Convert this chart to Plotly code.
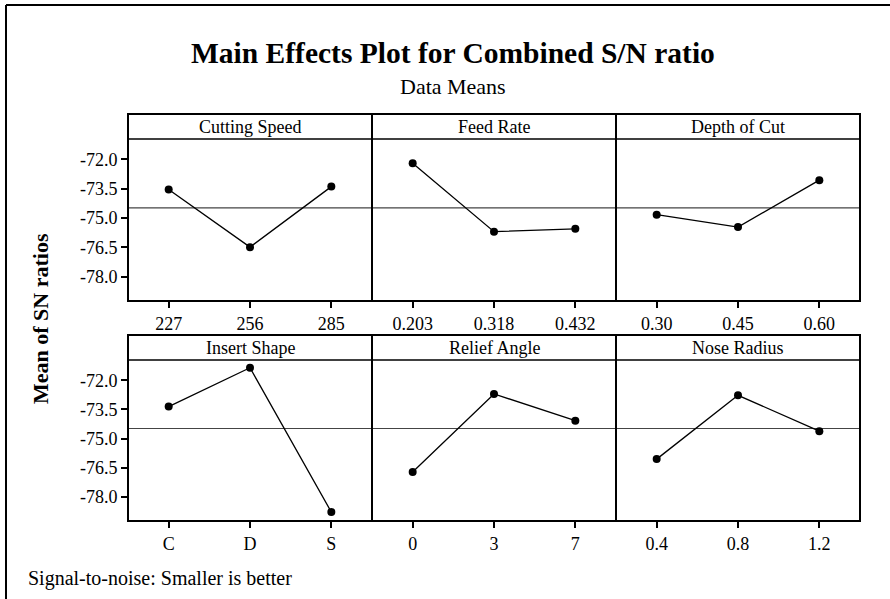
import plotly.graph_objects as go
import numpy as np

# ---- data ----
factors = ["Cutting Speed", "Feed Rate", "Depth of Cut",
           "Insert Shape", "Relief Angle", "Nose Radius"]
cutting_speed_levels = ["227", "256", "285"]
cutting_speed_means = [-73.54, -76.49, -73.39]
feed_rate_levels = ["0.203", "0.318", "0.432"]
feed_rate_means = [-72.19, -75.70, -75.55]
depth_of_cut_levels = ["0.30", "0.45", "0.60"]
depth_of_cut_means = [-74.83, -75.46, -73.06]
insert_shape_levels = ["C", "D", "S"]
insert_shape_means = [-73.35, -71.35, -78.79]
relief_angle_levels = ["0", "3", "7"]
relief_angle_means = [-76.72, -72.70, -74.08]
nose_radius_levels = ["0.4", "0.8", "1.2"]
nose_radius_means = [-76.06, -72.77, -74.62]
y_tick_vals = [-72.0, -73.5, -75.0, -76.5, -78.0]

levels = [cutting_speed_levels, feed_rate_levels, depth_of_cut_levels,
          insert_shape_levels, relief_angle_levels, nose_radius_levels]
means = [cutting_speed_means, feed_rate_means, depth_of_cut_means,
         insert_shape_means, relief_angle_means, nose_radius_means]
grand_mean = float(np.mean(np.concatenate([np.array(m) for m in means])))

W, H = 890, 599
FONT = "Liberation Serif, Times New Roman, serif"
col_x = [128, 372, 616, 860]
rows = [  # header top, plot top, plot bottom
    (114, 139, 301),
    (335, 360, 521),
]

def px(x):
    return x / W

def py(y):
    return 1 - y / H

fig = go.Figure()
shapes = []
annotations = []
layout_axes = {}

for i, (name, lv, mv) in enumerate(zip(factors, levels, means)):
    r, c = divmod(i, 3)
    htop, ptop, pbot = rows[r]
    x0, x1 = col_x[c], col_x[c + 1]
    idx = i + 1
    xa = "x" if idx == 1 else f"x{idx}"
    ya = "y" if idx == 1 else f"y{idx}"
    fig.add_trace(go.Scatter(
        x=list(range(len(lv))), y=mv, mode="lines+markers",
        line=dict(color="black", width=1.3),
        marker=dict(color="black", size=8),
        xaxis=xa, yaxis=ya, showlegend=False, cliponaxis=False))
    xkey = "xaxis" if idx == 1 else f"xaxis{idx}"
    ykey = "yaxis" if idx == 1 else f"yaxis{idx}"
    layout_axes[xkey] = dict(
        domain=[px(x0), px(x1)], anchor=ya, range=[-0.5, len(lv) - 0.5],
        tickmode="array", tickvals=list(range(len(lv))), ticktext=lv,
        ticks="outside", ticklen=6, tickwidth=1.5, tickcolor="black",
        showgrid=False, zeroline=False, showline=False,
        tickfont=dict(family=FONT, size=18, color="black"), fixedrange=True)
    layout_axes[ykey] = dict(
        domain=[py(pbot), py(ptop)], anchor=xa, range=[-79.25, -70.95],
        tickmode="array", tickvals=y_tick_vals,
        ticktext=[f"{v:.1f}" for v in y_tick_vals],
        ticks="outside" if c == 0 else "", ticklen=6, tickwidth=1.5,
        tickcolor="black", showticklabels=(c == 0),
        showgrid=False, zeroline=False, showline=False,
        tickfont=dict(family=FONT, size=18, color="black"), fixedrange=True)
    # reference line at grand mean
    shapes.append(dict(type="line", xref=f"{xa} domain", yref=ya,
                       x0=0, x1=1, y0=grand_mean, y1=grand_mean,
                       line=dict(color="#444444", width=1.2), layer="below"))
    # panel frame + header strip
    shapes.append(dict(type="rect", xref="paper", yref="paper",
                       x0=px(x0), x1=px(x1), y0=py(pbot), y1=py(htop),
                       line=dict(color="black", width=2)))
    shapes.append(dict(type="line", xref="paper", yref="paper",
                       x0=px(x0), x1=px(x1), y0=py(ptop), y1=py(ptop),
                       line=dict(color="black", width=1.5)))
    annotations.append(dict(text=name, xref="paper", yref="paper",
                            x=px((x0 + x1) / 2), y=py((htop + ptop) / 2),
                            xanchor="center", yanchor="middle", showarrow=False,
                            font=dict(family=FONT, size=18, color="black")))

# outer border (top and left)
shapes.append(dict(type="line", xref="paper", yref="paper",
                   x0=px(6), x1=1, y0=py(5), y1=py(5),
                   line=dict(color="black", width=2)))
shapes.append(dict(type="line", xref="paper", yref="paper",
                   x0=px(6), x1=px(6), y0=py(5), y1=0,
                   line=dict(color="black", width=2)))

annotations += [
    dict(text="<b>Main Effects Plot for Combined S/N ratio</b>", xref="paper", yref="paper",
         x=px(453), y=py(53), xanchor="center", yanchor="middle", showarrow=False,
         font=dict(family=FONT, size=29.5, color="black")),
    dict(text="Data Means", xref="paper", yref="paper",
         x=px(453), y=py(87), xanchor="center", yanchor="middle", showarrow=False,
         font=dict(family=FONT, size=22, color="black")),
    dict(text="<b>Mean of SN ratios</b>", xref="paper", yref="paper",
         x=px(40), y=py(319), xanchor="center", yanchor="middle", showarrow=False,
         textangle=-90, font=dict(family=FONT, size=22, color="black")),
    dict(text="Signal-to-noise: Smaller is better", xref="paper", yref="paper",
         x=px(26), y=py(578), xanchor="left", yanchor="middle", showarrow=False,
         font=dict(family=FONT, size=20, color="black")),
]

fig.update_layout(
    width=W, height=H, margin=dict(l=0, r=0, t=0, b=0),
    paper_bgcolor="white", plot_bgcolor="white",
    shapes=shapes, annotations=annotations, showlegend=False,
    **layout_axes)

fig.write_html("out.html", config={"displayModeBar": False},
               post_script="document.body.style.margin='0';document.body.style.overflow='hidden';")
